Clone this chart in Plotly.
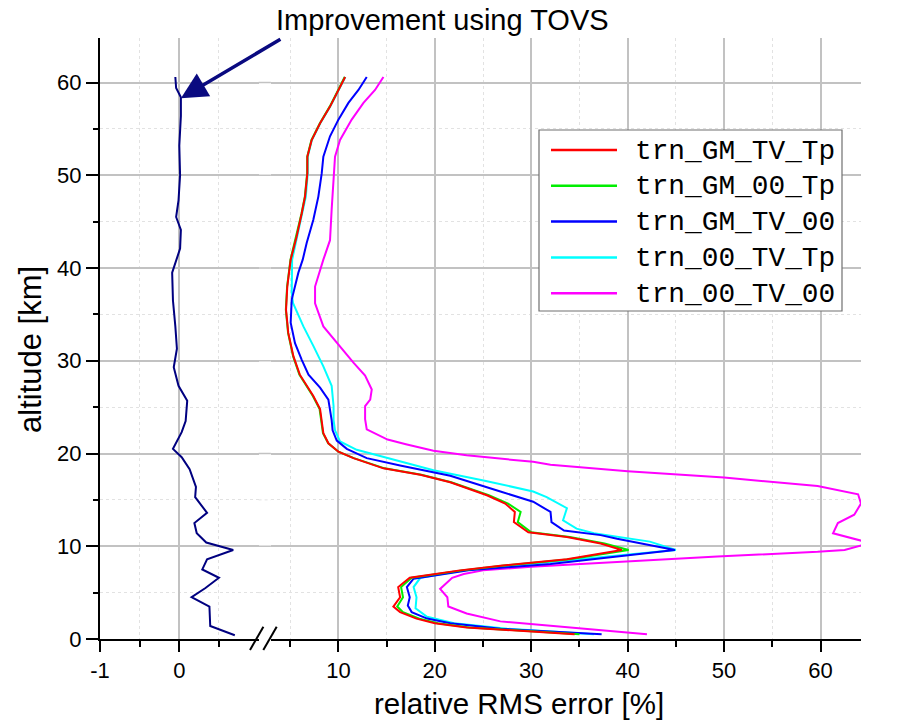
import plotly.graph_objects as go

# ---- data -------------------------------------------------------------
# improvement profile (left panel, x in %)
alt_tovs = [0.4, 1.4, 3.5, 4.5, 5.5, 6.6, 7.5, 8.6, 9.6, 10.4, 11.4, 12.5, 13.6,
            15.3, 16.4, 18.3, 19.6, 20.5, 22.3, 23.5, 25.7, 27.3, 29.3, 31.3,
            33.7, 36.5, 39.5, 42.1, 44.1, 45.5, 47.3, 50.0, 53.2, 56.4, 58.4,
            59.4, 60.6]
tovs = [0.70, 0.39, 0.38, 0.155, 0.33, 0.50, 0.29, 0.35, 0.68, 0.34, 0.22, 0.19,
        0.35, 0.20, 0.21, 0.13, 0.03, -0.08, 0.03, 0.08, 0.10, -0.01, -0.07,
        -0.03, -0.05, -0.08, -0.09, 0.01, 0.02, -0.04, -0.01, 0.01, 0.0, 0.02,
        0.02, -0.04, -0.05]

alt_red = [0.5, 0.9, 1.25, 1.7, 2.2, 2.9, 3.5, 4.5, 5.6, 6.6, 7.4, 7.9, 8.6, 9.6,
           10.3, 11.0, 11.5, 12.6, 13.7, 14.6, 15.5, 16.9, 17.7, 18.4, 19.5, 20.2,
           21.1, 22.2, 23.6, 24.8, 26.2, 28.5, 30.5, 33.0, 35.5, 38.0, 40.9, 43.4,
           45.9, 47.7, 50.2, 52.0, 53.8, 55.6, 57.4, 59.2, 60.6]
red = [34.5, 28.5, 23.3, 20.0, 18.1, 16.4, 15.7, 16.4, 16.2, 17.4, 22.6, 26.8, 33.7,
       39.4, 37.2, 33.7, 29.7, 28.2, 28.3, 27.3, 25.4, 21.6, 18.5, 14.67, 11.56,
       10.0, 8.96, 8.44, 8.27, 8.1, 7.4, 6.0, 5.33, 4.8, 4.57, 4.7, 5.05, 5.67,
       6.2, 6.54, 6.78, 6.78, 7.23, 8.1, 9.13, 10.0, 10.7]

alt_green = alt_red
green = [35.0, 28.8, 23.6, 20.3, 18.4, 16.7, 16.1, 16.7, 16.5, 17.6, 22.8, 27.0, 34.0,
         40.1, 37.6, 34.0, 30.0, 28.6, 28.9, 27.6, 25.6, 21.7, 18.6, 14.8, 11.6,
         10.0, 8.95, 8.4, 8.25, 8.05, 7.35, 5.95, 5.3, 4.78, 4.55, 4.68, 5.03, 5.64,
         6.18, 6.52, 6.76, 6.77, 7.2, 8.08, 9.1, 9.98, 10.65]

alt_blue = [0.5, 1.1, 1.7, 2.2, 2.9, 3.6, 4.5, 5.6, 6.5, 7.4, 8.1, 8.86, 9.6, 10.8,
            11.2, 11.7, 12.6, 13.7, 14.8, 15.9, 17.6, 18.7, 19.5, 20.5, 21.4, 22.5,
            23.6, 25.8, 27.1, 28.5, 30.1, 31.9, 34.1, 36.6, 39.5, 40.9, 42.7, 45.2,
            47.7, 50.2, 52.0, 54.2, 56.0, 57.8, 59.2, 60.6]
blue = [37.3, 26.8, 21.6, 19.2, 17.6, 17.2, 17.4, 17.1, 17.8, 23.5, 32.0, 38.9, 44.9,
        38.9, 37.2, 33.4, 32.1, 32.0, 30.2, 26.8, 21.6, 16.4, 12.94, 10.87, 9.83,
        9.4, 9.3, 8.96, 8.1, 6.9, 6.2, 5.5, 5.05, 5.16, 5.85, 6.3, 6.71, 7.4, 7.92,
        8.27, 8.44, 9.13, 10.0, 11.04, 12.08, 12.94]

alt_cyan = [0.5, 1.1, 1.7, 2.4, 3.3, 4.5, 5.6, 6.6, 7.4, 8.1, 8.9, 9.6, 10.5, 11.4,
            11.9, 12.8, 14.1, 15.3, 15.9, 17.1, 18.2, 19.6, 20.4, 21.3, 22.5, 23.6,
            25.1, 27.3, 29.4, 31.6, 33.7, 36.2, 37.3, 40.9, 43.4, 45.9, 47.7, 50.2,
            52.0, 53.8, 55.6, 57.4, 59.2, 60.6]
cyan = [36.5, 27.5, 22.0, 19.2, 18.0, 18.1, 17.8, 18.5, 23.0, 30.0, 38.5, 45.0, 42.3,
        36.5, 34.7, 33.3, 33.7, 31.6, 30.2, 25.05, 19.86, 14.67, 11.9, 10.17, 9.65,
        9.5, 9.5, 9.3, 8.44, 7.4, 6.37, 5.3, 5.16, 5.2, 5.75, 6.3, 6.62, 6.82, 6.82,
        7.25, 8.12, 9.15, 10.02, 10.72]

alt_magenta = [0.5, 1.25, 1.9, 2.75, 3.5, 4.5, 5.4, 6.6, 7.0, 7.4, 7.8, 8.3, 8.9,
               9.4, 9.6, 10.1, 10.5, 11.4, 12.5, 13.4, 14.6, 15.6, 16.5, 17.4, 18.1,
               18.8, 19.1, 19.8, 20.3, 21.0, 21.5, 22.6, 23.7, 25.1, 25.8, 26.9,
               28.4, 29.8, 31.9, 33.7, 36.2, 38.0, 40.9, 43.0, 46.3, 49.9, 52.0,
               53.8, 56.0, 57.8, 59.2, 60.6]
magenta = [42.0, 33.7, 26.8, 23.3, 21.4, 21.3, 20.55, 21.8, 23.0, 25.0, 30.0, 38.9,
           49.3, 59.7, 62.5, 64.3, 64.6, 61.3, 61.8, 63.5, 64.2, 63.9, 59.7, 50.0,
           40.0, 32.0, 30.2, 23.3, 19.86, 17.0, 15.1, 12.94, 12.77, 12.77, 13.3,
           13.46, 12.77, 11.56, 9.83, 8.44, 7.58, 7.58, 8.44, 9.13, 9.3, 9.48, 9.65,
           10.17, 11.38, 12.6, 13.8, 14.67]

series_names = ["trn_GM_TV_Tp", "trn_GM_00_Tp", "trn_GM_TV_00",
                "trn_00_TV_Tp", "trn_00_TV_00"]
series_colors = ["#ff0000", "#00ee00", "#0000ff", "#00ffff", "#ff00ff"]
series_x = [red, green, blue, cyan, magenta]
series_y = [alt_red, alt_green, alt_blue, alt_cyan, alt_magenta]

left_ticks = [-1, 0]
left_labels = ["-1", "0"]
right_ticks = [10, 20, 30, 40, 50, 60]
y_ticks = [0, 10, 20, 30, 40, 50, 60]
y_minor = [5, 15, 25, 35, 45, 55]

# ---- layout geometry (pixels) ------------------------------------------
W, H = 904, 723
ML, MR, MT, MB = 100, 43, 38, 84
PW, PH = W - ML - MR, H - MT - MB
GAP_L, GAP_R = 258.6, 270.9   # pixel span of the axis break


def px(xp):
    return (xp - ML) / PW


def py(yp):
    return (H - MB - yp) / PH


fig = go.Figure()

# improvement curve on the left panel
fig.add_trace(go.Scatter(x=tovs, y=alt_tovs, mode="lines", xaxis="x", yaxis="y",
                         line=dict(color="#000080", width=2), showlegend=False))

# RMS error profiles (drawn back to front so red ends on top)
for name, col, xs, ys in reversed(list(zip(series_names, series_colors,
                                           series_x, series_y))):
    fig.add_trace(go.Scatter(x=xs, y=ys, mode="lines", name=name,
                             xaxis="x2", yaxis="y",
                             line=dict(color=col, width=2), showlegend=False))

font_main = "Liberation Sans, Arial, sans-serif"
grid_major = "#c2c2c2"
grid_minor = "#e2e2e2"

common_x = dict(showline=True, linecolor="black", linewidth=2, ticks="outside",
                ticklen=11, tickwidth=2, tickcolor="black", showgrid=True,
                gridcolor=grid_major, gridwidth=1.5, zeroline=False,
                automargin=False,
                tickfont=dict(family=font_main, size=22, color="black"))

fig.update_layout(
    width=W, height=H,
    margin=dict(l=ML, r=MR, t=MT, b=MB),
    paper_bgcolor="white", plot_bgcolor="white",
    showlegend=False,
    xaxis=dict(domain=[0, px(GAP_L)], range=[-1, 1.0], tickmode="array",
               tickvals=left_ticks, ticktext=left_labels,
               minor=dict(tickvals=[-0.5, 0.5], ticklen=6, tickwidth=2,
                          tickcolor="black", ticks="outside", showgrid=True,
                          gridcolor=grid_minor, griddash="dot", gridwidth=1),
               anchor="y", **common_x),
    xaxis2=dict(domain=[px(GAP_R), 1.0], range=[3.0, 64.2], tickmode="array",
                tickvals=right_ticks,
                minor=dict(tickvals=[5, 15, 25, 35, 45, 55], ticklen=6,
                           tickwidth=2, tickcolor="black", ticks="outside",
                           showgrid=True, gridcolor=grid_minor, griddash="dot",
                           gridwidth=1),
                anchor="y", **common_x),
    yaxis=dict(domain=[0, 1], range=[0, 64.8], tickmode="array", tickvals=y_ticks,
               showline=True, linecolor="black", linewidth=2, ticks="outside",
               ticklen=12, tickwidth=2, tickcolor="black", showgrid=True,
               gridcolor=grid_major, gridwidth=1.5, zeroline=False,
               automargin=False, anchor="x",
               minor=dict(tickvals=y_minor, ticklen=5, tickwidth=2,
                          tickcolor="black", ticks="outside", showgrid=True,
                          gridcolor=grid_minor, griddash="dot", gridwidth=1),
               tickfont=dict(family=font_main, size=22, color="black")),
)

shapes = []
# horizontal grid carried across the axis break
for v in y_ticks[1:]:
    shapes.append(dict(type="line", xref="paper", yref="y", layer="below",
                       x0=px(GAP_L), x1=px(GAP_R), y0=v, y1=v,
                       line=dict(color=grid_major, width=1.5)))
for v in y_minor:
    shapes.append(dict(type="line", xref="paper", yref="y", layer="below",
                       x0=px(GAP_L), x1=px(GAP_R), y0=v, y1=v,
                       line=dict(color=grid_minor, width=1, dash="dot")))

# axis break marks "//"
for x0 in (250.0, 263.3):
    shapes.append(dict(type="line", xref="paper", yref="paper",
                       x0=px(x0), y0=py(650), x1=px(x0 + 13.4), y1=py(626.7),
                       line=dict(color="black", width=2)))

# legend box
LX0, LY0, LX1, LY1 = 539, 130, 842, 311
shapes.append(dict(type="rect", xref="paper", yref="paper",
                   x0=px(LX0), y0=py(LY1), x1=px(LX1), y1=py(LY0),
                   line=dict(color="#707070", width=1.2), fillcolor="white",
                   layer="above"))
row_y0, row_dy = 150.0, 35.8
annotations = []
for i, (name, col) in enumerate(zip(series_names, series_colors)):
    ry = row_y0 + i * row_dy
    shapes.append(dict(type="line", xref="paper", yref="paper",
                       x0=px(551), x1=px(617), y0=py(ry), y1=py(ry),
                       line=dict(color=col, width=2.5), layer="above"))
    annotations.append(dict(text=name, xref="paper", yref="paper",
                            x=px(633), y=py(ry + 1), xanchor="left",
                            yanchor="middle", showarrow=False,
                            font=dict(family="Liberation Mono, Courier New, monospace",
                                      size=27.8, color="black")))

# headline and arrow
annotations.append(dict(text="Improvement using TOVS", xref="paper", yref="paper",
                        x=px(442), y=py(20), xanchor="center", yanchor="middle",
                        showarrow=False,
                        font=dict(family=font_main, size=29, color="black")))
annotations.append(dict(text="", xref="x", yref="y", x=0.02, y=58.3,
                        showarrow=True, ax=101, ay=-60, arrowhead=2,
                        arrowsize=1.5, arrowwidth=3.5, arrowcolor="#0a0a80"))

# axis titles
annotations.append(dict(text="relative RMS error [%]", xref="paper", yref="paper",
                        x=px(519), y=py(703), xanchor="center", yanchor="middle",
                        showarrow=False,
                        font=dict(family=font_main, size=29.5, color="black")))
annotations.append(dict(text="altitude [km]", xref="paper", yref="paper",
                        x=px(30), y=py(350), xanchor="center", yanchor="middle",
                        textangle=-90, showarrow=False,
                        font=dict(family=font_main, size=31, color="black")))

fig.update_layout(shapes=shapes, annotations=annotations)

fig.write_html("out.html")
